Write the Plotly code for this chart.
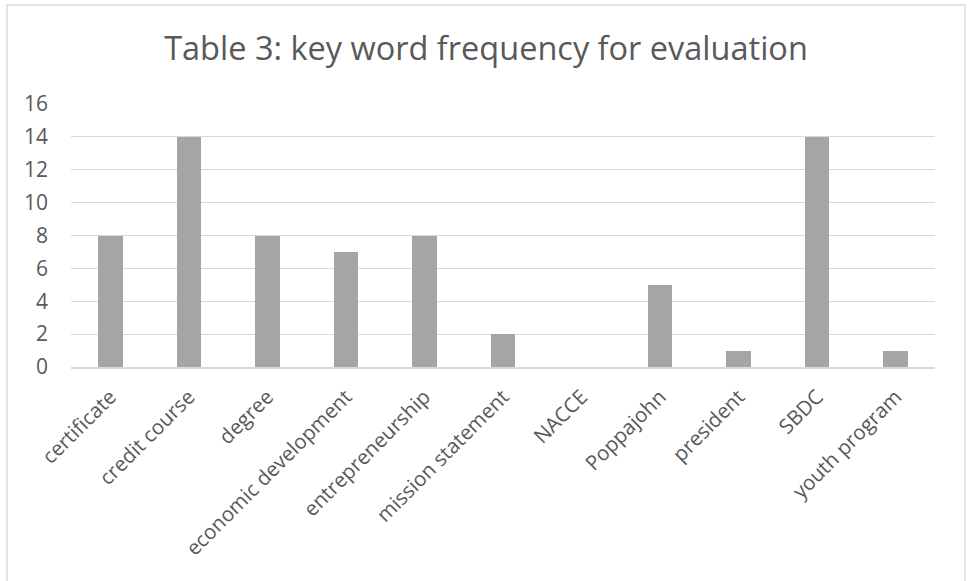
import plotly.graph_objects as go

# Key word counts
categories = ["certificate", "credit course", "degree", "economic development",
              "entrepreneurship", "mission statement", "NACCE", "Poppajohn",
              "president", "SBDC", "youth program"]
frequency = [8, 14, 8, 7, 8, 2, 0, 5, 1, 14, 1]
y_ticks = [0, 2, 4, 6, 8, 10, 12, 14, 16]

W, H = 969, 581
ML, MR, MT, MB = 71, 34, 104, 214
PW, PH = W - ML - MR, H - MT - MB

TEXT = "#595959"
GRID = "#D9D9D9"
FONT = "Open Sans"

fig = go.Figure(go.Bar(
    x=categories,
    y=frequency,
    marker=dict(color="#A5A5A5", line=dict(width=0)),
    width=0.313,
))

# outer chart border, expressed in plot-area (paper) units
def px_x(p):
    return (p - ML) / PW

def px_y(p):
    return (H - MB - p) / PH

fig.add_shape(type="rect", xref="paper", yref="paper",
              x0=px_x(7), x1=px_x(965), y0=px_y(600), y1=px_y(5),
              line=dict(color=GRID, width=1.5), fillcolor="rgba(0,0,0,0)",
              layer="below")

fig.update_layout(
    width=W, height=H,
    margin=dict(l=ML, r=MR, t=MT, b=MB, pad=0),
    paper_bgcolor="white", plot_bgcolor="white",
    showlegend=False,
    font=dict(family=FONT, color=TEXT),
    title=dict(text="Table 3: key word frequency for evaluation",
               font=dict(family=FONT, size=32.5, color=TEXT),
               xref="container", x=486 / W, xanchor="center",
               yref="container", y=1 - 49 / H, yanchor="middle"),
    xaxis=dict(
        tickangle=-45,
        tickfont=dict(family=FONT, size=20.5, color=TEXT),
        showgrid=False,
        showline=True, linecolor=GRID, linewidth=1.5,
        ticks="", ticklabelstandoff=8,
    ),
    yaxis=dict(
        range=[0, 16],
        tickvals=y_ticks,
        tickfont=dict(family=FONT, size=21, color=TEXT),
        showgrid=True, gridcolor=GRID, gridwidth=1,
        zeroline=False, showline=False,
        ticks="", ticklabelstandoff=22,
    ),
    bargap=0,
)

fig.write_html("out.html")
